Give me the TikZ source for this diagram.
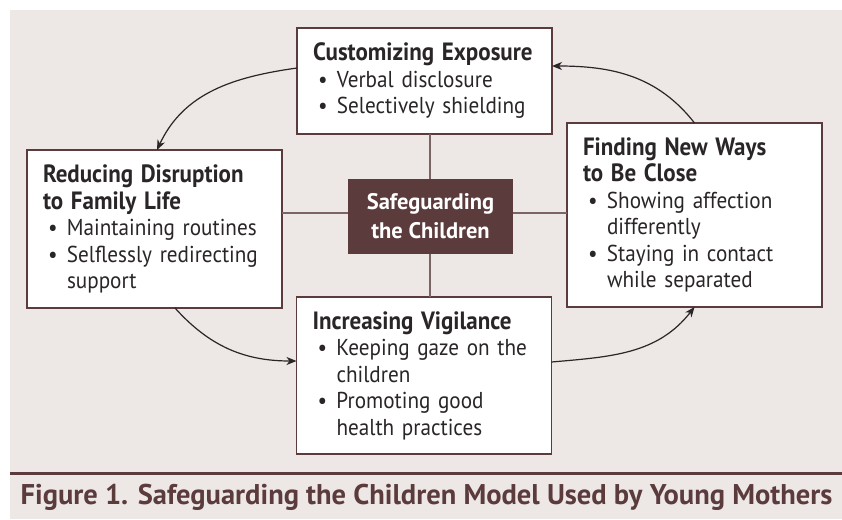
\documentclass[tikz,border=0pt]{standalone}
\usepackage{fontspec}
\setmainfont{PT Sans}[FakeStretch=0.92]
\newfontfamily\widefont{PT Sans}
\usetikzlibrary{arrows.meta,
                calc
                }
\definecolor{panel}{HTML}{EDE8E6}
\definecolor{plum}{HTML}{5B3B3C}
\definecolor{hubgray}{HTML}{7D6464}
\definecolor{ink}{HTML}{2A2526}
\newcommand\bl{\makebox[24pt][l]{\hspace{5pt}\textbullet}}
\newcommand\ind{\hspace*{24pt}}
\newcommand\hd[1]{{\fontsize{25}{26.5}\selectfont\bfseries #1}}

\begin{document}
\begin{tikzpicture}[
x=1pt, y=-1pt,
  box/.style = {draw=plum, line width=1.2pt, fill=white,
                text=ink, text width=223pt, align=left,
                inner xsep=16pt, inner ysep=0pt, outer sep=0pt,
                minimum width=255pt,
                font=\fontsize{23}{26.5}\selectfont},
  hub/.style = {fill=plum, text=white, align=center,
                minimum width=165pt, minimum height=75pt,
                inner sep=0pt, outer sep=0pt,
                font=\widefont\fontsize{22.5}{29}\selectfont\bfseries},
  spoke/.style = {draw=hubgray, line width=1.5pt},
  cyc/.style = {draw=ink, line width=1.2pt,
                -{Stealth[length=10pt, width=8pt, inset=3pt]}},
                    ]
% canvas
\useasboundingbox (0,0) rectangle (842,519);
\fill[white] (0,0) rectangle (842,519);
\fill[panel] (10,10) rectangle (842,519);
% the four boxes
\node[box, minimum height=106pt] (expo) at (424.5,81)
    {\hd{Customizing Exposure}\\
     \bl Verbal disclosure\\
     \bl Selectively shielding};
\node[box, minimum height=158pt] (disr) at (154.5,229)
    {\hd{Reducing Disruption}\\
     \hd{to Family Life}\\
     \bl Maintaining routines\\
     \bl Selflessly redirecting\\
     \ind support};
\node[box, minimum height=184pt] (close) at (694.5,215)
    {\hd{Finding New Ways}\\
     \hd{to Be Close}\\
     \bl Showing affection\\
     \ind differently\\
     \bl Staying in contact\\
     \ind while separated};
\node[box, minimum height=157pt, minimum width=254pt] (vigil) at (424,375.5)
    {\hd{Increasing Vigilance}\\
     \bl Keeping gaze on the\\
     \ind children\\
     \bl Promoting good\\
     \ind health practices};
% spokes and hub
\coordinate (c) at (430,213);
\draw[spoke] (expo.south -| c) -- (vigil.north -| c);
\draw[spoke] (disr.east |- c) -- (close.west |- c);
\node[hub] (safe) at (430.5,216.5) {Safeguarding\\the Children};
% cycle arrows
\draw[cyc] ([yshift=13pt]expo.west) to[out=188, in=65]
           ([xshift=2.5pt]disr.north);
\draw[cyc] ([xshift=20.5pt]disr.south) to[out=-48, in=180]
           ([yshift=14.5pt]vigil.west);
\draw[cyc] ([yshift=13.5pt]vigil.east) to[out=5, in=-128]
           (close.south);
\draw[cyc] (close.north) to[out=128, in=0]
           ([yshift=15pt]expo.east);
% caption
\draw[plum, line width=3pt] (10,473) -- (842,473);
\node[text=plum, font=\widefont\fontsize{28.5}{30}\selectfont\bfseries] (cap) at (426.5,497)
    {Figure 1. Safeguarding the Children Model Used by Young Mothers};
\end{tikzpicture}
\end{document}
